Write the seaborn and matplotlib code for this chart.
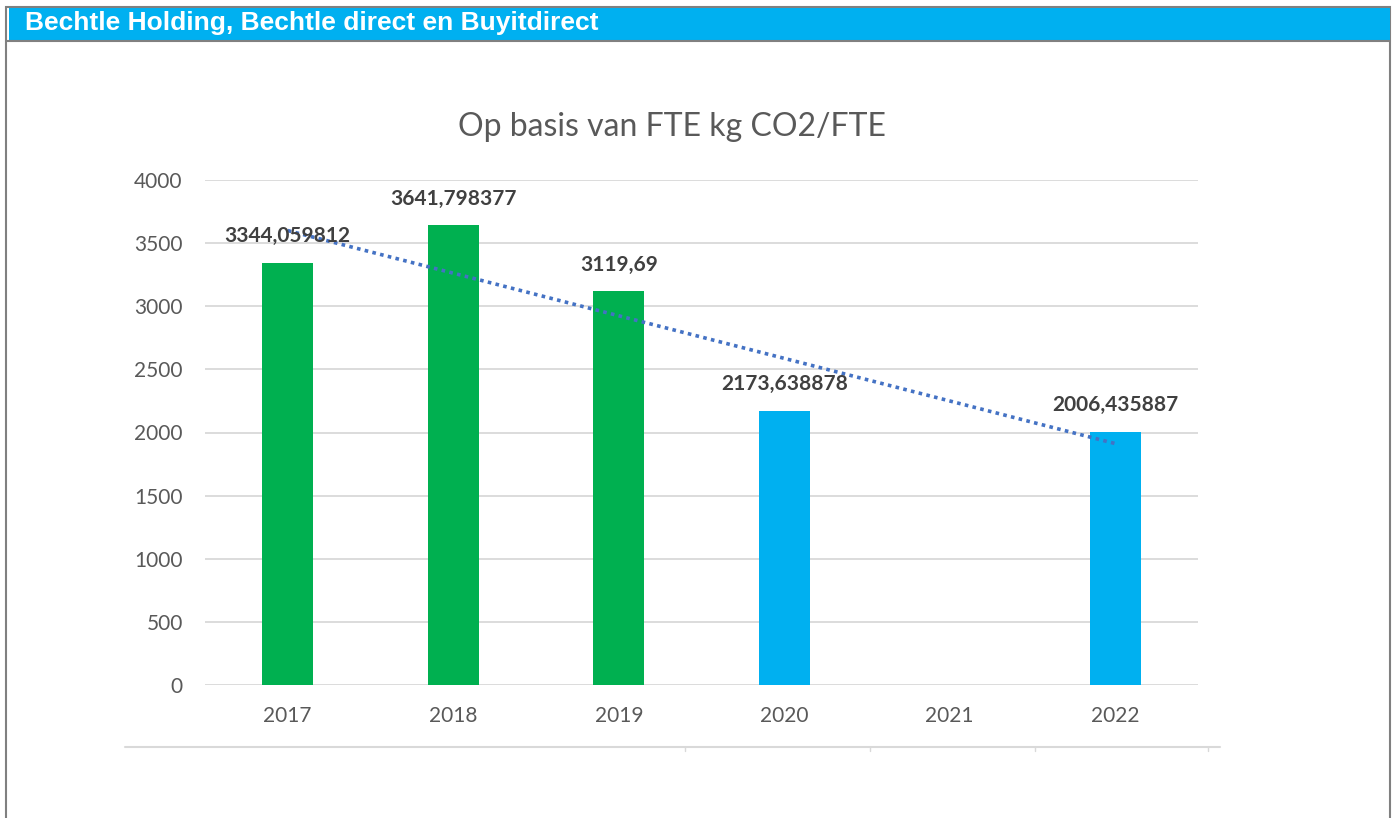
import numpy as np
import pandas as pd
import matplotlib
matplotlib.use("Agg")
import matplotlib.pyplot as plt
from matplotlib.lines import Line2D
from matplotlib.patches import Rectangle
import seaborn as sns

# ---- data ----
years = ["2017", "2018", "2019", "2020", "2021", "2022"]
values = [3344.059812, 3641.798377, 3119.69, 2173.638878, np.nan, 2006.435887]
labels = ["3344,059812", "3641,798377", "3119,69", "2173,638878", "", "2006,435887"]
bar_colors = ["#00B050", "#00B050", "#00B050", "#00B0F0", "#00B0F0", "#00B0F0"]
yticks = [0, 500, 1000, 1500, 2000, 2500, 3000, 3500, 4000]
title = "Op basis van FTE kg CO2/FTE"
header = "Bechtle Holding, Bechtle direct en Buyitdirect"

sns.set_theme(style="white")
plt.rcParams["font.family"] = ["Lato", "DejaVu Sans"]

W, H = 1396, 818
fig = plt.figure(figsize=(W / 100, H / 100), dpi=100)

def fx(px):
    return px / W

def fy(py):
    return 1 - py / H

# outer frame (bottom edge cut off) and header
fig.add_artist(Rectangle((fx(6), fy(830)), fx(1390) - fx(6), fy(7) - fy(830),
                         transform=fig.transFigure, fill=False, edgecolor="#808080", lw=1.5,
                         clip_on=False))
fig.add_artist(Rectangle((fx(9), fy(40)), fx(1390) - fx(9), fy(8) - fy(40),
                         transform=fig.transFigure, facecolor="#00B0F0", edgecolor="none"))
fig.add_artist(Line2D([fx(6), fx(1390)], [fy(40.5), fy(40.5)], transform=fig.transFigure,
                      color="#808080", lw=1.5))
fig.text(fx(25), fy(23), header, color="white", fontsize=19, fontweight="bold",
         family=["Liberation Sans", "DejaVu Sans"], va="center", ha="left")

# chart title
fig.text(fx(672), fy(127), title, color="#595959", fontsize=23, ha="center", va="center")

ax = fig.add_axes([fx(205), fy(685), fx(1198) - fx(205), fy(180) - fy(685)])
df = pd.DataFrame({"year": years, "value": values})
sns.barplot(data=df, x="year", y="value", hue="year", order=years, hue_order=years,
            palette=dict(zip(years, bar_colors)), width=0.31, legend=False, ax=ax,
            saturation=1, edgecolor="none")

ax.set_xlim(-0.5, len(years) - 0.5)
ax.set_ylim(0, 4000)
ax.set_yticks(yticks)
ax.set_yticklabels([str(t) for t in yticks])
ax.grid(axis="y", color="#D9D9D9", lw=1.3)
ax.set_axisbelow(True)
for s in ax.spines.values():
    s.set_visible(False)
ax.tick_params(axis="both", length=0, labelsize=15, colors="#595959")
ax.tick_params(axis="y", pad=16)
ax.tick_params(axis="x", pad=15)
ax.set_xlabel("")
ax.set_ylabel("")

# linear trendline (computed from data)
xs = np.arange(len(years))
mask = ~np.isnan(values)
coef = np.polyfit(xs[mask], np.array(values)[mask], 1)
tx = np.array([0, len(years) - 1])
ax.plot(tx, np.polyval(coef, tx), color="#4472C4", lw=2.6, linestyle=(0, (1, 1.2)), zorder=3)

# data labels
for i, (v, lab) in enumerate(zip(values, labels)):
    if np.isnan(v):
        continue
    ax.annotate(lab, (i, v), xytext=(0, 19), textcoords="offset points", ha="center",
                va="center", fontsize=15, fontweight="bold", color="#404040", zorder=4)

# bottom separator line with small ticks
fig.add_artist(Line2D([fx(125), fx(1220)], [fy(747), fy(747)], transform=fig.transFigure,
                      color="#D9D9D9", lw=1.5))
for px in [685, 870, 1035, 1208]:
    fig.add_artist(Line2D([fx(px), fx(px)], [fy(747), fy(751)], transform=fig.transFigure,
                          color="#D9D9D9", lw=1))

fig.savefig("out.png", dpi=100, facecolor="white")
